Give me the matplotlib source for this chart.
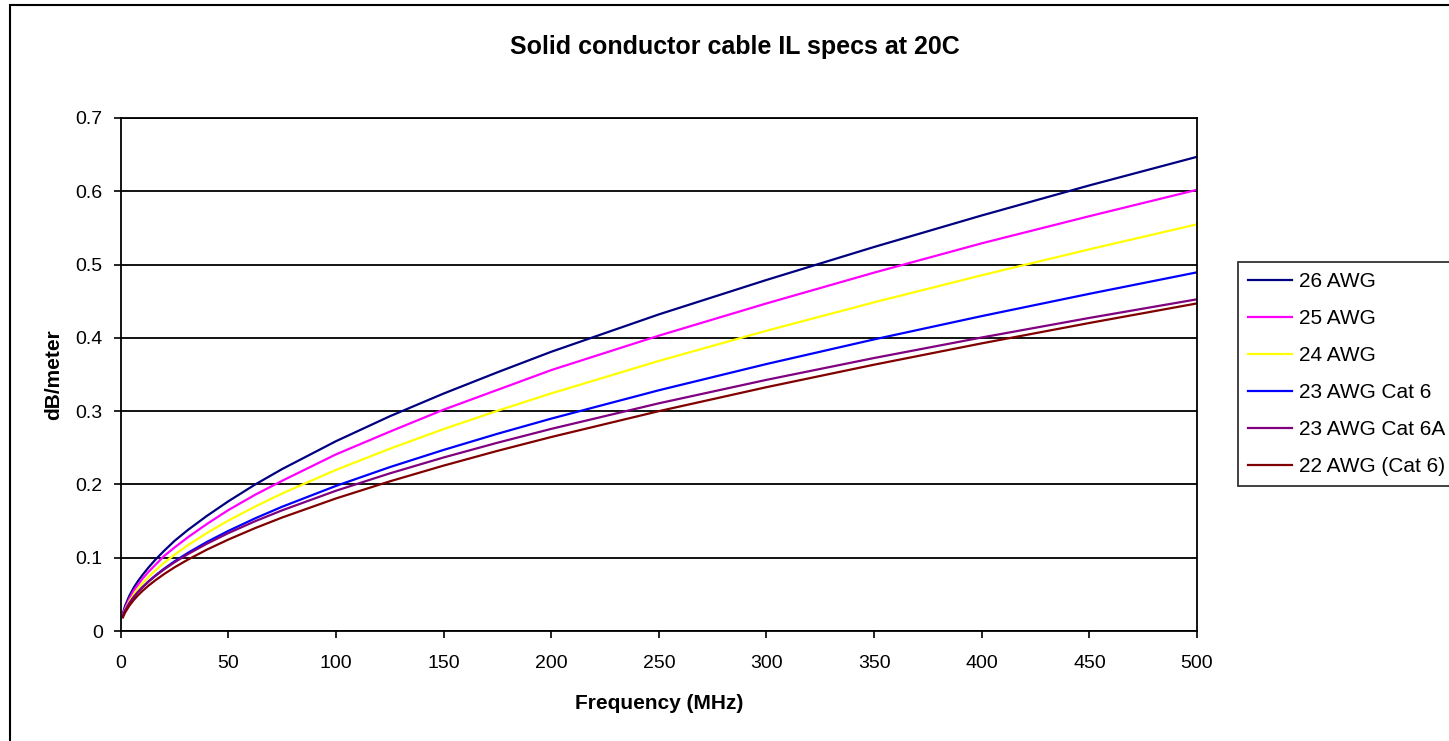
import matplotlib
matplotlib.use("Agg")
import matplotlib.pyplot as plt
from matplotlib.patches import Rectangle

plt.rcParams['font.family'] = ['Liberation Sans', 'DejaVu Sans']

# frequency points (MHz)
freq = [1, 2, 4, 6, 8, 10, 13, 16, 20, 25, 31.25, 40, 50, 62.5, 75,
        100, 125, 150, 175, 200, 250, 300, 350, 400, 450, 500]

awg26 = [0.024, 0.034, 0.048, 0.059, 0.068, 0.076, 0.087, 0.097, 0.109, 0.123,
         0.138, 0.157, 0.177, 0.200, 0.221, 0.259, 0.293, 0.324, 0.353, 0.381,
         0.432, 0.479, 0.524, 0.567, 0.608, 0.647]
awg25 = [0.022, 0.031, 0.044, 0.055, 0.063, 0.071, 0.081, 0.090, 0.102, 0.114,
         0.128, 0.146, 0.165, 0.186, 0.205, 0.241, 0.272, 0.302, 0.329, 0.356,
         0.403, 0.447, 0.489, 0.529, 0.566, 0.602]
awg24 = [0.0204, 0.0286, 0.0405, 0.0498, 0.0576, 0.0647, 0.0741, 0.0825, 0.0927, 0.1042,
         0.1172, 0.1337, 0.1507, 0.1699, 0.1877, 0.2198, 0.2487, 0.2755, 0.3005, 0.3242,
         0.3685, 0.4097, 0.4485, 0.4854, 0.5208, 0.5549]
awg23_cat6 = [0.0203, 0.0273, 0.0378, 0.0461, 0.0532, 0.0595, 0.0680, 0.0755, 0.0847, 0.0951,
              0.1067, 0.1215, 0.1366, 0.1538, 0.1696, 0.1980, 0.2236, 0.2471, 0.2691, 0.2898,
              0.3285, 0.3643, 0.3979, 0.4297, 0.4601, 0.4894]
awg23_cat6a = [0.0208, 0.0277, 0.0380, 0.0461, 0.0531, 0.0593, 0.0675, 0.0749, 0.0838, 0.0938,
               0.1050, 0.1191, 0.1336, 0.1499, 0.1647, 0.1914, 0.2151, 0.2368, 0.2569, 0.2758,
               0.3107, 0.3427, 0.3725, 0.4005, 0.4272, 0.4526]
awg22 = [0.0185, 0.0250, 0.0345, 0.0421, 0.0486, 0.0544, 0.0621, 0.0690, 0.0774, 0.0869,
         0.0975, 0.1110, 0.1248, 0.1405, 0.1549, 0.1809, 0.2042, 0.2257, 0.2458, 0.2647,
         0.3000, 0.3327, 0.3634, 0.3925, 0.4203, 0.4470]

series = {
    "26 AWG": (awg26, "#000080"),
    "25 AWG": (awg25, "#FF00FF"),
    "24 AWG": (awg24, "#FFFF00"),
    "23 AWG Cat 6": (awg23_cat6, "#0000FF"),
    "23 AWG Cat 6A": (awg23_cat6a, "#800080"),
    "22 AWG (Cat 6)": (awg22, "#800000"),
}

fig = plt.figure(figsize=(14.49, 7.41), dpi=100)
ax = fig.add_axes([0.0833, 0.1484, 0.7428, 0.6924])

for name, (vals, col) in series.items():
    ax.plot(freq, vals, color=col, linewidth=1.6, label=name)

ax.set_xlim(0, 500)
ax.set_ylim(0, 0.7)
ax.set_xticks(range(0, 501, 50))
ax.set_yticks([0, 0.1, 0.2, 0.3, 0.4, 0.5, 0.6, 0.7])
ax.set_yticklabels(["0", "0.1", "0.2", "0.3", "0.4", "0.5", "0.6", "0.7"])
ax.yaxis.grid(True, color="black", linewidth=1.3)
ax.set_axisbelow(True)
for s in ax.spines.values():
    s.set_linewidth(1.3)
ax.tick_params(direction="out", length=5, width=1.2, labelsize=14)
ax.tick_params(axis="x", pad=12)
ax.tick_params(axis="y", pad=8)

ax.set_xlabel("Frequency (MHz)", fontsize=15, fontweight="bold", labelpad=16)
ax.set_ylabel("dB/meter", fontsize=15, fontweight="bold", labelpad=9)
fig.text(0.507, 0.937, "Solid conductor cable IL specs at 20C", ha="center", va="center",
         fontsize=18, fontweight="bold")

leg = fig.legend(loc="upper left", bbox_to_anchor=(0.8544, 0.6464), fontsize=15,
                 frameon=True, fancybox=False, edgecolor="black", labelspacing=0.86,
                 handlelength=2.1, handletextpad=0.35, borderpad=0.5, borderaxespad=0)
leg.get_frame().set_linewidth(1.3)

fig.patches.append(Rectangle((10 / 1449, -0.02), 1.0, 1 - 5 / 741 + 0.02,
                             transform=fig.transFigure, fill=False,
                             edgecolor="black", linewidth=1.5))

fig.savefig("out.png", dpi=100)
